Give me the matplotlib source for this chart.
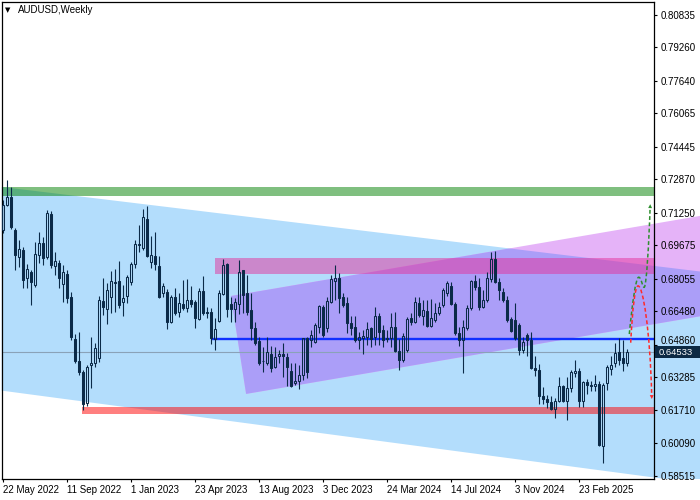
import matplotlib
matplotlib.use("Agg")
import matplotlib.pyplot as plt
from matplotlib.patches import Polygon, PathPatch, Rectangle
from matplotlib.path import Path
from matplotlib.transforms import Bbox, TransformedBbox
import numpy as np

plt.rcParams['font.family'] = ['Liberation Sans', 'DejaVu Sans']

# ---------------- weekly AUDUSD candles (22 May 2022 .. 18 May 2025) ----------------
opens = [.7042, .7163, .7201, .7042, .6911, .6945, .6809, .6838, .6775, .6921,
         .6979, .6911, .7119, .6867, .6882, .6780, .6829, .6717, .6514, .6408,
         .6354, .6204, .6388, .6398, .6422, .6698, .6659, .6717, .6790, .6795,
         .6693, .6722, .6790, .6877, .6969, .6954, .7095, .6887, .6916, .6867,
         .6737, .6742, .6596, .6717, .6645, .6683, .6664, .6703, .6693, .6611,
         .6746, .6645, .6645, .6514, .6601, .6732, .6877, .6683, .6659, .6683,
         .6848, .6737, .6654, .6567, .6504, .6408, .6398, .6441, .6379, .6432,
         .6441, .6427, .6359, .6301, .6310, .6340, .6519, .6509, .6499, .6572,
         .6669, .6567, .6693, .6795, .6809, .6717, .6688, .6591, .6572, .6509,
         .6519, .6524, .6567, .6524, .6625, .6557, .6519, .6519, .6572, .6456,
         .6412, .6461, .6616, .6596, .6688, .6625, .6649, .6577, .6606, .6640,
         .6679, .6737, .6771, .6683, .6543, .6509, .6567, .6664, .6795, .6766,
         .6669, .6703, .6805, .6901, .6790, .6742, .6703, .6611, .6606, .6582,
         .6461, .6533, .6509, .6375, .6365, .6240, .6225, .6210, .6175, .6215,
         .6285, .6215, .6275, .6350, .6358, .6215, .6305, .6290, .6285, .6295,
         .5995, .6300, .6369, .6398, .6451, .6422, .6400]
highs = [.7187, .7284, .7250, .7052, .6993, .6959, .6877, .6848, .6984, .7032,
         .7008, .7138, .7133, .6935, .6896, .6872, .6848, .6742, .6538, .6548,
         .6364, .6388, .6524, .6495, .6722, .6809, .6785, .6843, .6853, .6892,
         .6775, .6824, .6887, .6993, .7066, .7143, .7158, .7013, .7032, .6916,
         .6785, .6756, .6727, .6761, .6737, .6800, .6805, .6771, .6703, .6761,
         .6819, .6669, .6664, .6616, .6751, .6901, .6882, .6717, .6712, .6896,
         .6848, .6824, .6737, .6596, .6524, .6475, .6524, .6480, .6475, .6461,
         .6495, .6446, .6398, .6398, .6388, .6519, .6524, .6557, .6591, .6679,
         .6679, .6717, .6824, .6872, .6834, .6737, .6717, .6625, .6625, .6548,
         .6557, .6596, .6572, .6669, .6640, .6582, .6557, .6640, .6645, .6514,
         .6543, .6620, .6640, .6717, .6717, .6703, .6703, .6708, .6688, .6693,
         .6761, .6795, .6790, .6693, .6572, .6606, .6679, .6800, .6824, .6809,
         .6751, .6838, .6935, .6940, .6809, .6761, .6722, .6620, .6688, .6591,
         .6524, .6543, .6550, .6430, .6395, .6280, .6245, .6240, .6230, .6330,
         .6290, .6330, .6365, .6410, .6375, .6310, .6320, .6310, .6340, .6310,
         .6300, .6390, .6430, .6495, .6519, .6509, .6465]
lows = [.7027, .7158, .7047, .6848, .6863, .6761, .6761, .6679, .6766, .6882,
        .6872, .6901, .6858, .6824, .6761, .6693, .6688, .6509, .6398, .6340,
        .6170, .6190, .6277, .6379, .6403, .6630, .6586, .6640, .6645, .6664,
        .6625, .6688, .6775, .6858, .6935, .6945, .6911, .6858, .6848, .6712,
        .6717, .6562, .6591, .6630, .6620, .6654, .6645, .6669, .6567, .6606,
        .6630, .6616, .6490, .6461, .6596, .6727, .6620, .6596, .6596, .6635,
        .6640, .6630, .6509, .6485, .6388, .6354, .6388, .6354, .6374, .6398,
        .6330, .6286, .6281, .6291, .6272, .6315, .6325, .6475, .6495, .6543,
        .6524, .6548, .6688, .6703, .6640, .6669, .6543, .6533, .6499, .6466,
        .6441, .6485, .6475, .6485, .6485, .6475, .6499, .6475, .6451, .6364,
        .6403, .6451, .6582, .6591, .6620, .6582, .6572, .6572, .6596, .6630,
        .6669, .6722, .6679, .6533, .6480, .6350, .6557, .6654, .6751, .6654,
        .6664, .6693, .6790, .6785, .6703, .6693, .6596, .6548, .6509, .6437,
        .6446, .6432, .6370, .6335, .6200, .6200, .6180, .6170, .6130, .6210,
        .6210, .6120, .6255, .6330, .6185, .6185, .6250, .6260, .6260, .5995,
        .5914, .6265, .6340, .6380, .6390, .6360, .6385]
closes = [.7163, .7201, .7056, .6921, .6950, .6800, .6853, .6790, .6925, .6979,
          .6906, .7124, .6872, .6892, .6809, .6838, .6712, .6524, .6408, .6354,
          .6199, .6379, .6398, .6470, .6703, .6669, .6751, .6795, .6785, .6679,
          .6712, .6814, .6877, .6974, .6972, .7105, .6916, .6921, .6877, .6717,
          .6771, .6596, .6717, .6640, .6688, .6664, .6703, .6683, .6616, .6746,
          .6640, .6642, .6519, .6562, .6737, .6872, .6659, .6659, .6693, .6838,
          .6727, .6645, .6567, .6495, .6398, .6406, .6451, .6374, .6427, .6441,
          .6432, .6379, .6286, .6310, .6340, .6519, .6354, .6533, .6582, .6674,
          .6533, .6698, .6805, .6809, .6712, .6679, .6591, .6567, .6509, .6524,
          .6528, .6562, .6514, .6625, .6548, .6509, .6514, .6572, .6456, .6412,
          .6528, .6611, .6596, .6693, .6630, .6654, .6577, .6616, .6640, .6669,
          .6751, .6785, .6683, .6543, .6509, .6572, .6664, .6795, .6766, .6669,
          .6703, .6809, .6901, .6790, .6751, .6703, .6606, .6553, .6519, .6461,
          .6499, .6509, .6375, .6365, .6240, .6225, .6210, .6175, .6215, .6285,
          .6215, .6275, .6355, .6358, .6215, .6305, .6290, .6285, .6295, .6000,
          .6291, .6379, .6388, .6446, .6412, .6398, .64533]

x_tick_idx = [0, 16, 32, 48, 64, 80, 96, 112, 128, 144]
x_tick_labels = ['22 May 2022', '11 Sep 2022', '1 Jan 2023', '23 Apr 2023', '13 Aug 2023',
                 '3 Dec 2023', '24 Mar 2024', '14 Jul 2024', '3 Nov 2024', '23 Feb 2025']
y_tick_values = [0.80835, 0.79260, 0.77640, 0.76065, 0.74445, 0.72870, 0.71250, 0.69675,
                 0.68055, 0.66480, 0.64860, 0.63285, 0.61710, 0.60090, 0.58515]
current_price = 0.64533
chart_title = 'AUDUSD,Weekly'

# ---------------- drawn objects (time index / price anchors) ----------------
green_zone = (0.7206, 0.7252)
pink_zone = (0.6829, 0.6905)
red_zone = (0.6151, 0.6187)
green_zone_start = -0.4
pink_zone_start = 52.9
red_zone_start = 19.7
blue_level = 0.6516
blue_level_start = 51.9

blue_channel_x = [-0.4, 174.5]
blue_channel_top = [0.7250, 0.6840]
blue_channel_bottom = [0.6264, 0.5813]
purple_top_x = [56.9, 174.5]
purple_top = [0.6722, 0.7111]
purple_bottom_x = [60.7, 174.5]
purple_bottom = [0.6248, 0.6625]

# scenario paths (bezier anchor/control points)
green_path_x = [156.5, 157.2, 158.1, 158.85, 159.5, 159.8, 160.2, 160.8, 161.4, 161.7]
green_path_y = [0.6538, 0.6680, 0.6813, 0.6813, 0.6813, 0.6764, 0.6764, 0.6764, 0.6980, 0.7150]
red_path_x = [156.85, 157.3, 157.9, 158.7, 159.9, 161.7, 162.1]
red_path_y = [0.6496, 0.6660, 0.6771, 0.6771, 0.6771, 0.6560, 0.6240]

# ---------------- figure ----------------
W, H = 700, 500
fig = plt.figure(figsize=(7, 5), dpi=100)
fig.patch.set_facecolor('white')
ax = fig.add_axes([2 / W, 21 / H, 652 / W, 477 / H])
ax.set_facecolor('white')
ax.set_xlim(-0.325, 162.675)
ax.set_ylim(0.58361, 0.81455)

ext_clip = TransformedBbox(Bbox.from_extents(0, 21 / H, 1, 498 / H), fig.transFigure)

navy = '#0b2a48'

# blue channel
blue_poly = Polygon([(blue_channel_x[0], blue_channel_top[0]), (blue_channel_x[1], blue_channel_top[1]),
                     (blue_channel_x[1], blue_channel_bottom[1]), (blue_channel_x[0], blue_channel_bottom[0])],
                    closed=True, facecolor='#b3ddfc', edgecolor='none', zorder=0.5)
ax.add_patch(blue_poly)
blue_poly.set_clip_box(ext_clip)

# purple channel (outside / inside blue)
pverts = [(purple_top_x[0], purple_top[0]), (purple_top_x[1], purple_top[1]),
          (purple_bottom_x[1], purple_bottom[1]), (purple_bottom_x[0], purple_bottom[0])]
pur_out = Polygon(pverts, closed=True, facecolor='#e5b3f8', edgecolor='none', zorder=0.6)
ax.add_patch(pur_out)
pur_out.set_clip_box(ext_clip)
pur_in = Polygon(pverts, closed=True, facecolor='#ab9ef8', edgecolor='none', zorder=0.7)
ax.add_patch(pur_in)
pur_in.set_clip_box(ext_clip)
pur_in.set_clip_path(blue_poly)

xr = 162.675
# zones
ax.add_patch(Rectangle((green_zone_start, green_zone[0]), xr - green_zone_start, green_zone[1] - green_zone[0],
                       facecolor=(0, 0.5, 0), alpha=0.5, edgecolor='none', zorder=1))
ax.add_patch(Rectangle((pink_zone_start, pink_zone[0]), xr - pink_zone_start, pink_zone[1] - pink_zone[0],
                       facecolor='#e4329c', alpha=0.5, edgecolor='none', zorder=1))
ax.add_patch(Rectangle((red_zone_start, red_zone[0]), xr - red_zone_start, red_zone[1] - red_zone[0],
                       facecolor=(1, 0, 0), alpha=0.5, edgecolor='none', zorder=1))

# current price line and blue level
ax.axhline(current_price, color='#8aa2b8', lw=0.8, zorder=1.2)
ax.hlines(blue_level, blue_level_start, xr, color='#1030ff', lw=1.7, zorder=1.3)

# candles
o = np.array(opens); h = np.array(highs); l = np.array(lows); c = np.array(closes)
idx = np.arange(len(o))
bull = c >= o
bhi = np.maximum(o, c); blo = np.minimum(o, c)
ax.vlines(idx, bhi, h, color=navy, lw=0.8, zorder=3)
ax.vlines(idx, l, blo, color=navy, lw=0.8, zorder=3)
ax.bar(idx[~bull], (bhi - blo)[~bull], bottom=blo[~bull], width=0.5, facecolor=navy,
       edgecolor=navy, lw=0.75, zorder=3)
ax.bar(idx[bull], (bhi - blo)[bull], bottom=blo[bull], width=0.5, facecolor='none',
       edgecolor=navy, lw=0.75, zorder=3)

# scenario arrows
gcodes = [Path.MOVETO] + [Path.CURVE4] * 9
gpath = Path(list(zip(green_path_x, green_path_y)), gcodes)
ax.add_patch(PathPatch(gpath, facecolor='none', edgecolor='#2f8f2f', lw=1.1,
                       linestyle=(0, (2.5, 1.6)), zorder=4))
ax.annotate('', xy=(green_path_x[-1] + 0.05, green_path_y[-1] + 0.0030),
            xytext=(green_path_x[-1], green_path_y[-1] - 0.0005),
            arrowprops=dict(arrowstyle='-|>', color='#2f8f2f', lw=0, mutation_scale=7), zorder=4)
rcodes = [Path.MOVETO] + [Path.CURVE4] * 6
rpath = Path(list(zip(red_path_x, red_path_y)), rcodes)
ax.add_patch(PathPatch(rpath, facecolor='none', edgecolor='#ff2a2a', lw=1.1,
                       linestyle=(0, (2.5, 1.6)), zorder=4))
ax.annotate('', xy=(red_path_x[-1] + 0.05, red_path_y[-1] - 0.0030),
            xytext=(red_path_x[-1], red_path_y[-1] + 0.0005),
            arrowprops=dict(arrowstyle='-|>', color='#ff2a2a', lw=0, mutation_scale=7), zorder=4)

# axes styling
for s in ax.spines.values():
    s.set_color('black')
    s.set_linewidth(0.9)
ax.yaxis.tick_right()
ax.set_yticks(y_tick_values)
# the label nearest the price tag is placed by hand, a little higher, so both stay readable
near_tag = int(np.argmin(np.abs(np.array(y_tick_values) - current_price)))
ax.set_yticklabels(['' if k == near_tag else f'{v:.5f}' for k, v in enumerate(y_tick_values)])
ax.annotate(f'{y_tick_values[near_tag]:.5f}', xy=(1, y_tick_values[near_tag]),
            xycoords=('axes fraction', 'data'), xytext=(5.0, 2.6), textcoords='offset points',
            va='center', ha='left', fontsize=7, color='black', annotation_clip=False)
ax.set_xticks(x_tick_idx)
ax.set_xticklabels(x_tick_labels)
for t in ax.get_xticklabels():
    t.set_horizontalalignment('left')
ax.tick_params(axis='x', length=2.5, width=0.8, pad=1.5, labelsize=7, colors='black')
ax.tick_params(axis='y', length=2.5, width=0.8, pad=2.5, labelsize=7, colors='black')

# price tag
fig.canvas.draw()
yd = ax.transData.transform((0, current_price))[1]
fig.add_artist(Rectangle((655 / W, (yd - 6) / H), 45 / W, 12 / H, transform=fig.transFigure,
                         facecolor='#0d2a44', edgecolor='none', zorder=5))
fig.text(659 / W, (yd - 0.8) / H, f'{current_price:.5f}', color='white', fontsize=6.8, va='center',
         ha='left', zorder=6)

# title
fig.text(5 / W, 1 - 10.5 / H, '\u25bc', fontsize=5, va='center', ha='left', color='black',
         family=['DejaVu Sans'])
fig.text(18 / W, 1 - 10 / H, chart_title, fontsize=7, va='center', ha='left', color='black')

fig.savefig('out.png', dpi=100)
